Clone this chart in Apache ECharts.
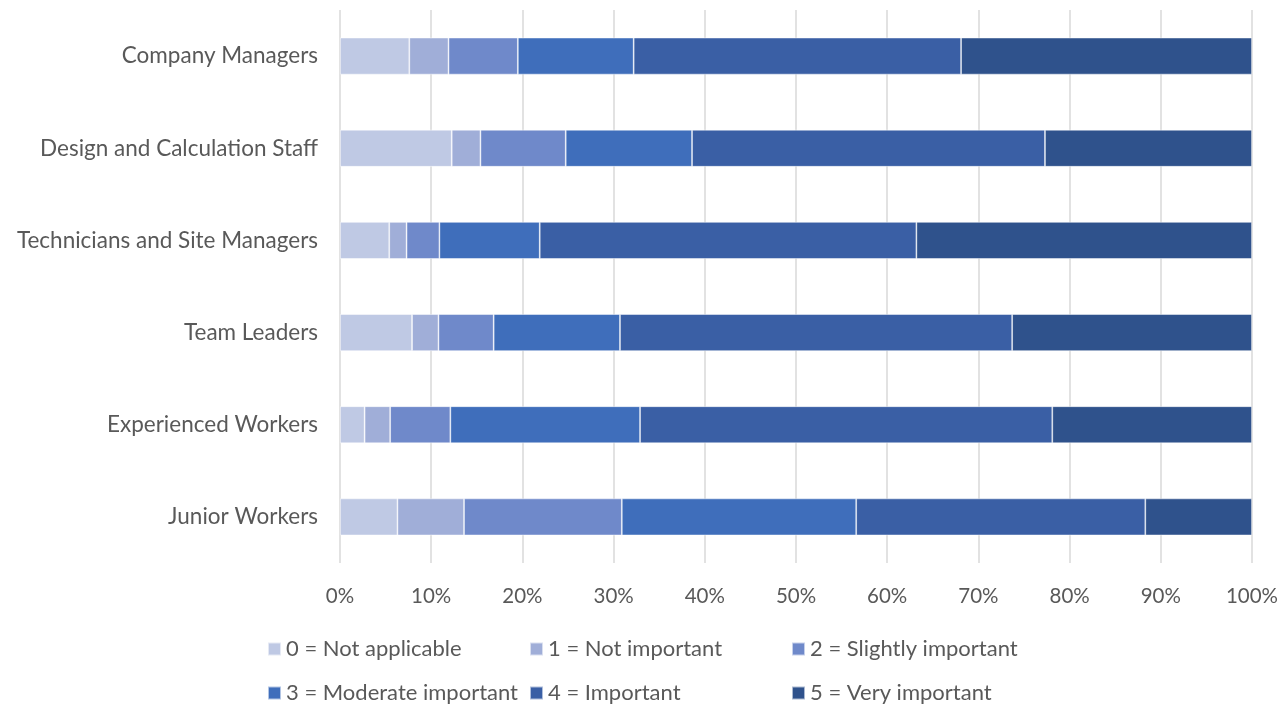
<!DOCTYPE html>
<html>
<head>
<meta charset="utf-8">
<script src="https://cdn.jsdelivr.net/npm/echarts@6/dist/echarts.min.js"></script>
<style>
  html, body { margin: 0; padding: 0; background: #fff; }
  #chart { width: 1283px; height: 707px; }
</style>
</head>
<body>
<div id="chart"></div>
<script>
// Respondent groups (top to bottom)
const categories = [
  'Company Managers',
  'Design and Calculation Staff',
  'Technicians and Site Managers',
  'Team Leaders',
  'Experienced Workers',
  'Junior Workers'
];

// Share of answers per rating, in percent, one value per group
const notApplicable     = [7.6, 12.25, 5.4, 7.9, 2.7, 6.3];
const notImportant      = [4.3, 3.15, 1.9, 2.9, 2.8, 7.3];
const slightlyImportant = [7.6, 9.35, 3.6, 6.05, 6.6, 17.3];
const moderateImportant = [12.7, 13.85, 11.0, 13.85, 20.8, 25.7];
const important         = [35.9, 38.7, 41.3, 43.0, 45.2, 31.7];
const veryImportant     = [31.9, 22.7, 36.8, 26.3, 21.9, 11.7];

const seriesNames = [
  '0 = Not applicable',
  '1 = Not important',
  '2 = Slightly important',
  '3 = Moderate important',
  '4 = Important',
  '5 = Very important'
];
const seriesValues = [notApplicable, notImportant, slightlyImportant,
                      moderateImportant, important, veryImportant];
const colors = ['#bfc9e4', '#a0aed8', '#6f89ca', '#3f6ebb', '#3a5fa5', '#2f528c'];

const FONT = 'Lato';
const TEXT = '#595959';

const series = seriesNames.map((name, i) => ({
  name,
  type: 'bar',
  stack: 'total',
  data: seriesValues[i],
  barWidth: 37,
  itemStyle: { color: colors[i], borderColor: 'rgba(255,255,255,0.6)', borderWidth: 0.8 },
  emphasis: { disabled: true }
}));

// One legend entry per component: three columns, two rows
const colLeft = [267, 529, 791];
const rowTop = [638, 682];
const legends = seriesNames.map((name, i) => ({
  left: colLeft[i % 3],
  top: rowTop[Math.floor(i / 3)],
  padding: 0,
  itemWidth: 13, itemHeight: 13,
  icon: 'rect',
  selectedMode: false,
  textStyle: { color: TEXT, fontSize: 22, fontFamily: FONT },
  data: [name]
}));

const chart = echarts.init(document.getElementById('chart'), null, { renderer: 'canvas' });
chart.setOption({
  animation: false,
  color: colors,
  grid: { left: 340, right: 31, top: 10, bottom: 144, containLabel: false },
  xAxis: {
    type: 'value',
    min: 0, max: 100, interval: 10,
    axisLine: { show: false },
    axisTick: { show: false },
    splitLine: { lineStyle: { color: '#d9d9d9', width: 1.5 } },
    axisLabel: { formatter: '{value}%', color: TEXT, fontSize: 20.5, fontFamily: FONT, margin: 23 }
  },
  yAxis: {
    type: 'category',
    data: categories,
    inverse: true,
    axisLine: { show: false },
    axisTick: { show: false },
    axisLabel: { color: TEXT, fontSize: 22.5, fontFamily: FONT, margin: 22 }
  },
  legend: legends,
  series
});
</script>
</body>
</html>
